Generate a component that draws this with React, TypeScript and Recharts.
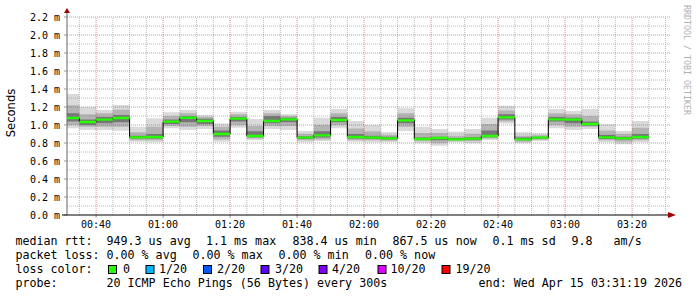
import React from 'react';
import { ComposedChart, Area, XAxis, YAxis, ReferenceLine, ReferenceDot } from 'recharts';

// ---- data (milliseconds) ----
const startTime = '00:31:19';
const endTime = '03:31:19';
const lastStepEnd = '03:25';
const segmentStarts = [
  '00:31:19', '00:35', '00:40', '00:45', '00:50', '00:55',
  '01:00', '01:05', '01:10', '01:15', '01:20', '01:25', '01:30', '01:35', '01:40', '01:45', '01:50', '01:55',
  '02:00', '02:05', '02:10', '02:15', '02:20', '02:25', '02:30', '02:35', '02:40', '02:45', '02:50', '02:55',
  '03:00', '03:05', '03:10', '03:15', '03:20',
];
const medianRtt = [1.078, 1.033, 1.059, 1.078, 0.863, 0.867, 1.037, 1.081, 1.044, 0.900, 1.070, 0.878, 1.044, 1.063, 0.859, 0.885, 1.056, 0.867, 0.859, 0.852, 1.052, 0.844, 0.856, 0.841, 0.848, 0.878, 1.085, 0.841, 0.859, 1.063, 1.059, 1.011, 0.863, 0.852, 0.867];
const minRtt = [0.963, 0.944, 0.944, 0.937, 0.815, 0.807, 0.963, 0.944, 0.956, 0.815, 0.970, 0.833, 0.956, 0.944, 0.807, 0.822, 0.963, 0.815, 0.807, 0.807, 0.933, 0.796, 0.770, 0.807, 0.796, 0.833, 1.018, 0.796, 0.822, 0.963, 0.944, 0.956, 0.807, 0.785, 0.807];
const lowerMid = [1.00, 0.98, 0.98, 0.98, 0.83, 0.83, 0.99, 0.98, 0.99, 0.84, 1.00, 0.85, 0.99, 0.99, 0.83, 0.84, 1.00, 0.83, 0.83, 0.825, 0.98, 0.82, 0.80, 0.82, 0.82, 0.85, 1.04, 0.815, 0.835, 1.00, 0.98, 0.98, 0.83, 0.815, 0.83];
const lowerInner = [1.04, 1.00, 1.02, 1.03, 0.85, 0.85, 1.01, 1.03, 1.01, 0.87, 1.04, 0.865, 1.02, 1.03, 0.845, 0.86, 1.03, 0.85, 0.845, 0.84, 1.02, 0.835, 0.83, 0.835, 0.835, 0.865, 1.06, 0.83, 0.85, 1.04, 1.02, 0.995, 0.845, 0.84, 0.85];
const upperInner = [1.13, 1.06, 1.09, 1.11, 0.88, 0.90, 1.06, 1.10, 1.07, 0.94, 1.09, 0.93, 1.10, 1.08, 0.875, 0.93, 1.09, 0.90, 0.88, 0.87, 1.08, 0.86, 0.87, 0.855, 0.865, 0.94, 1.12, 0.86, 0.87, 1.09, 1.08, 1.04, 0.89, 0.87, 0.90];
const upperMid = [1.22, 1.12, 1.13, 1.17, 0.92, 0.98, 1.10, 1.13, 1.09, 0.98, 1.12, 0.99, 1.13, 1.10, 0.90, 1.00, 1.13, 0.96, 0.93, 0.89, 1.13, 0.91, 0.91, 0.88, 0.90, 1.01, 1.16, 0.88, 0.885, 1.13, 1.12, 1.10, 0.94, 0.90, 0.97];
const maxRtt = [1.344, 1.200, 1.167, 1.222, 0.980, 1.074, 1.141, 1.167, 1.111, 1.018, 1.148, 1.067, 1.167, 1.119, 0.933, 1.081, 1.178, 1.044, 1.000, 0.919, 1.185, 0.980, 0.956, 0.926, 0.956, 1.081, 1.215, 0.919, 0.907, 1.178, 1.156, 1.178, 1.007, 0.933, 1.044];

// ---- ticks ----
const xTickLabels = ['00:40', '01:00', '01:20', '01:40', '02:00', '02:20', '02:40', '03:00', '03:20'];
const xMinorLabels = ['00:35', '00:45', '00:50', '00:55', '01:05', '01:10', '01:15', '01:25', '01:30', '01:35', '01:45', '01:50', '01:55', '02:05', '02:10', '02:15', '02:25', '02:30', '02:35', '02:45', '02:50', '02:55', '03:05', '03:10', '03:15', '03:25', '03:30'];
const yTicks = [0, 0.2, 0.4, 0.6, 0.8, 1.0, 1.2, 1.4, 1.6, 1.8, 2.0, 2.2];
const yMinorTicks = [0.1, 0.3, 0.5, 0.7, 0.9, 1.1, 1.3, 1.5, 1.7, 1.9, 2.1];

const lossLegend = [
  { label: '0', color: '#26ff00', boxX: 108.5, textX: 123 },
  { label: '1/20', color: '#00b8ff', boxX: 146, textX: 159 },
  { label: '2/20', color: '#0059ff', boxX: 203.5, textX: 217 },
  { label: '3/20', color: '#5e00ff', boxX: 261, textX: 275 },
  { label: '4/20', color: '#7e00ff', boxX: 319, textX: 332 },
  { label: '10/20', color: '#dd00ff', boxX: 378, textX: 390.5 },
  { label: '19/20', color: '#ff0000', boxX: 442, textX: 455.5 },
];

const toMin = (s: string) => {
  const p = s.split(':').map(Number);
  return p[0] * 60 + p[1] + (p[2] || 0) / 60;
};
const tStart = toMin(startTime);
const tEnd = toMin(endTime);
const xTicks = xTickLabels.map(toMin);
const xMinor = xMinorLabels.map(toMin);
const BAND = 0.013;

const rows = segmentStarts.map((s, i) => ({
  t: toMin(s),
  median: medianRtt[i],
  outer: [minRtt[i], maxRtt[i]],
  mid: [lowerMid[i], upperMid[i]],
  inner: [lowerInner[i], upperInner[i]],
  loss: [medianRtt[i] - BAND, medianRtt[i] + BAND],
}));
rows.push({ ...rows[rows.length - 1], t: toMin(lastStepEnd) });

const MONO = '"DejaVu Sans Mono", monospace';
const fmtTime = (v: number) => {
  const h = Math.floor(v / 60);
  const m = Math.round(v - h * 60);
  return `${String(h).padStart(2, '0')}:${String(m).padStart(2, '0')}`;
};

const XArrow = (props: any) => {
  const { cx, cy } = props;
  return (
    <g>
      <line x1={cx - 608} y1={cy} x2={cx} y2={cy} stroke="#000" strokeWidth={1} />
      <polygon points={`${cx - 2},${cy - 3} ${cx + 6},${cy} ${cx - 2},${cy + 3}`} fill="#a00000" />
    </g>
  );
};
const YArrow = (props: any) => {
  const { cx, cy } = props;
  return (
    <g>
      <line x1={cx} y1={cy} x2={cx} y2={cy - 6} stroke="#666" strokeWidth={1} />
      <polygon points={`${cx - 3},${cy - 4} ${cx},${cy - 9} ${cx + 3},${cy - 4}`} fill="#a00000" />
    </g>
  );
};

const textLines: { y: number; parts: { x: number; s: string }[] }[] = [
  {
    y: 245,
    parts: [
      { x: 15.4, s: 'median rtt:' },
      { x: 106.5, s: '949.3 us avg' },
      { x: 206, s: '1.1 ms max' },
      { x: 292.5, s: '838.4 us min' },
      { x: 392.5, s: '867.5 us now' },
      { x: 492.5, s: '0.1 ms sd' },
      { x: 571.5, s: '9.8   am/s' },
    ],
  },
  {
    y: 259,
    parts: [
      { x: 15.4, s: 'packet loss:' },
      { x: 106.5, s: '0.00 % avg' },
      { x: 192.5, s: '0.00 % max' },
      { x: 278.5, s: '0.00 % min' },
      { x: 365, s: '0.00 % now' },
    ],
  },
  { y: 273, parts: [{ x: 15.4, s: 'loss color:' }] },
  {
    y: 287,
    parts: [
      { x: 15.4, s: 'probe:' },
      { x: 106.5, s: '20 ICMP Echo Pings (56 Bytes) every 300s' },
      { x: 478.6, s: 'end: Wed Apr 15 03:31:19 2026' },
    ],
  },
];

export default function App() {
  return (
    <div style={{ position: 'absolute', left: 0, top: 0, width: 697, height: 297, background: '#fff', overflow: 'hidden' }}>
      <ComposedChart width={697} height={297} data={rows} margin={{ top: 17, right: 27, bottom: 52, left: 0 }}>
        <XAxis
          dataKey="t"
          type="number"
          domain={[tStart, tEnd]}
          allowDataOverflow
          ticks={xTicks}
          interval={0}
          tickFormatter={fmtTime}
          height={30}
          tickSize={3}
          tickMargin={3}
          axisLine={false}
          tickLine={{ stroke: '#999' }}
          tick={{ fontFamily: MONO, fontSize: 10, fill: '#000' }}
        />
        <YAxis
          type="number"
          domain={[0, 2.2]}
          allowDataOverflow
          ticks={yTicks}
          interval={0}
          tickFormatter={(v: number) => `${v.toFixed(1)} m`}
          width={67}
          tickSize={3}
          tickMargin={4}
          axisLine={{ stroke: '#666' }}
          tickLine={{ stroke: '#999' }}
          tick={{ fontFamily: MONO, fontSize: 10, fill: '#000' }}
        />
        <Area type="stepAfter" dataKey="outer" stroke="none" fill="#dadada" fillOpacity={1} isAnimationActive={false} />
        <Area type="stepAfter" dataKey="mid" stroke="none" fill="#b4b4b4" fillOpacity={1} isAnimationActive={false} />
        <Area type="stepAfter" dataKey="inner" stroke="none" fill="#767676" fillOpacity={1} isAnimationActive={false} />
        {yMinorTicks.map((v) => (
          <ReferenceLine key={`ym${v}`} y={v} stroke="rgba(140,140,140,0.6)" strokeDasharray="1 1" />
        ))}
        {xMinor.map((v) => (
          <ReferenceLine key={`xm${v}`} x={v} stroke="rgba(140,140,140,0.6)" strokeDasharray="1 1" />
        ))}
        {yTicks.slice(1).map((v) => (
          <ReferenceLine key={`yM${v}`} y={v} stroke="rgba(215,60,60,0.6)" strokeDasharray="1 1" />
        ))}
        {xTicks.map((v) => (
          <ReferenceLine key={`xM${v}`} x={v} stroke="rgba(215,60,60,0.6)" strokeDasharray="1 1" />
        ))}
        <Area type="stepAfter" dataKey="median" stroke="#000" strokeWidth={1} fill="none" fillOpacity={0} isAnimationActive={false} zIndex={900} />
        <Area type="stepAfter" dataKey="loss" stroke="none" fill="#26ff00" fillOpacity={1} isAnimationActive={false} zIndex={1000} />
        <ReferenceDot x={tEnd} y={0} r={0} shape={<XArrow />} />
        <ReferenceDot x={tStart} y={2.2} r={0} shape={<YArrow />} />
      </ComposedChart>
      <svg width={697} height={297} style={{ position: 'absolute', left: 0, top: 0, pointerEvents: 'none' }}>
        <text
          x={15}
          y={113}
          transform="rotate(-90 15 113)"
          textAnchor="middle"
          fontFamily='"DejaVu Sans", sans-serif'
          fontSize={11.6}
          fill="#000"
        >
          Seconds
        </text>
        <text
          x={684}
          y={5}
          transform="rotate(90 684 5)"
          fontFamily={MONO}
          fontSize={8.3}
          fill="#b0b0b0"
        >
          RRDTOOL / TOBI OETIKER
        </text>
        {textLines.map((ln) =>
          ln.parts.map((p, j) => (
            <text key={`${ln.y}-${j}`} x={p.x} y={ln.y} fontFamily={MONO} fontSize={11.66} fill="#000" style={{ whiteSpace: 'pre' }}>
              {p.s}
            </text>
          ))
        )}
        {lossLegend.map((l) => (
          <g key={l.label}>
            <rect x={l.boxX} y={265.5} width={8} height={8} fill={l.color} stroke="#000" strokeWidth={1} />
            <text x={l.textX} y={273} fontFamily={MONO} fontSize={11.66} fill="#000">
              {l.label}
            </text>
          </g>
        ))}
      </svg>
    </div>
  );
}
